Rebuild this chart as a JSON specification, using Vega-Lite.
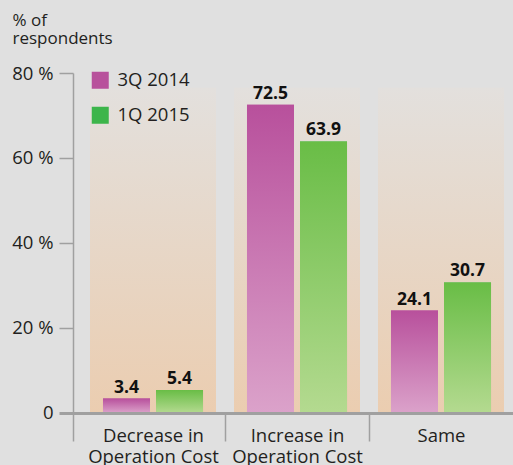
{
  "$schema": "https://vega.github.io/schema/vega-lite/v6.json",
  "width": 440,
  "height": 368,
  "autosize": {"type": "none"},
  "padding": {"left": 73, "top": 73, "right": 0, "bottom": 24},
  "background": "#e0e0e0",
  "config": {"font": "Open Sans", "view": {"stroke": null}},
  "datasets": {
    "responses": [
      {"category": "Decrease in Operation Cost", "period": "3Q 2014", "value": 3.4},
      {"category": "Decrease in Operation Cost", "period": "1Q 2015", "value": 5.4},
      {"category": "Increase in Operation Cost", "period": "3Q 2014", "value": 72.5},
      {"category": "Increase in Operation Cost", "period": "1Q 2015", "value": 63.9},
      {"category": "Same", "period": "3Q 2014", "value": 24.1},
      {"category": "Same", "period": "1Q 2015", "value": 30.7}
    ]
  },
  "data": {"name": "responses"},
  "encoding": {
    "x": {
      "field": "category",
      "type": "nominal",
      "sort": ["Decrease in Operation Cost", "Increase in Operation Cost", "Same"],
      "scale": {"type": "band", "paddingInner": 0.125, "paddingOuter": 0.09028, "align": 0.654},
      "axis": {
        "title": null,
        "orient": "bottom",
        "offset": -28,
        "domainColor": "#a0a0a0",
        "domainWidth": 3,
        "tickSize": 28,
        "tickWidth": 1.5,
        "tickColor": {"condition": {"test": "datum.value === 'Decrease in Operation Cost'", "value": "transparent"}, "value": "#a0a0a0"},
        "bandPosition": 0.5,
        "tickOffset": -72,
        "labelOffset": 72,
        "labelPadding": -15,
        "labelBaseline": "top",
        "labelFontSize": 18.5,
        "labelLineHeight": 21,
        "labelColor": "#231f20",
        "labelAngle": 0,
        "labelOverlap": false,
        "labelExpr": "datum.value === 'Same' ? datum.value : [replace(datum.value, ' Operation Cost', ''), 'Operation Cost']"
      }
    }
  },
  "layer": [
    {
      "transform": [{"aggregate": [{"op": "count", "as": "n"}], "groupby": ["category"]}],
      "mark": {
        "type": "rect",
        "color": {
          "gradient": "linear", "x1": 0, "y1": 0, "x2": 0, "y2": 1,
          "stops": [{"offset": 0, "color": "#e3e0dd"}, {"offset": 1, "color": "#ebcdb0"}]
        }
      },
      "encoding": {
        "y": {"datum": 76.5, "type": "quantitative", "scale": {"domain": [-6.6, 80], "nice": false, "zero": false}},
        "y2": {"datum": 0}
      }
    },
    {
      "mark": {"type": "bar"},
      "encoding": {
        "y": {
          "field": "value",
          "type": "quantitative",
          "scale": {"domain": [-6.6, 80], "nice": false, "zero": false},
          "axis": {
            "values": [0, 20, 40, 60, 80],
            "grid": false,
            "domainColor": "#a0a0a0",
            "domainWidth": 1.5,
            "tickSize": 14,
            "tickColor": "#a0a0a0",
            "tickWidth": {"condition": {"test": "datum.value === 0", "value": 3}, "value": 1.5},
            "labelPadding": 6,
            "labelFontSize": 18.5,
            "labelColor": "#231f20",
            "labelExpr": "datum.value === 0 ? '0' : datum.value + ' %'",
            "title": ["% of", "respondents"],
            "titleAngle": 0,
            "titleAlign": "left",
            "titleBaseline": "top",
            "titleX": -61,
            "titleY": -61,
            "titleFontSize": 17,
            "titleFontWeight": "normal",
            "titleLineHeight": 18,
            "titleColor": "#231f20"
          }
        },
        "xOffset": {"field": "period", "type": "nominal", "scale": {"domain": ["3Q 2014", "1Q 2015"], "paddingInner": 0.1132, "paddingOuter": 0.245}},
        "color": {
          "field": "period",
          "type": "nominal",
          "scale": {"domain": ["3Q 2014", "1Q 2015"], "range": ["#b8519c", "#3db54a"]},
          "legend": {
            "title": null,
            "orient": "none",
            "legendX": 18,
            "legendY": -2,
            "padding": 0,
            "symbolType": "square",
            "symbolSize": 289,
            "symbolStrokeWidth": 0,
            "symbolOpacity": 1,
            "labelFontSize": 18.5,
            "labelColor": "#231f20",
            "labelOffset": 8,
            "rowPadding": 16
          }
        }
      }
    },
    {
      "transform": [{"filter": "datum.period === '3Q 2014'"}],
      "mark": {
        "type": "bar",
        "color": {
          "gradient": "linear", "x1": 0, "y1": 0, "x2": 0, "y2": 1,
          "stops": [{"offset": 0, "color": "#b8509c"}, {"offset": 1, "color": "#dba2ca"}]
        }
      },
      "encoding": {
        "y": {"field": "value", "type": "quantitative"},
        "xOffset": {"field": "period", "type": "nominal", "scale": {"domain": ["3Q 2014", "1Q 2015"], "paddingInner": 0.1132, "paddingOuter": 0.245}}
      }
    },
    {
      "transform": [{"filter": "datum.period === '1Q 2015'"}],
      "mark": {
        "type": "bar",
        "color": {
          "gradient": "linear", "x1": 0, "y1": 0, "x2": 0, "y2": 1,
          "stops": [{"offset": 0, "color": "#69bd46"}, {"offset": 1, "color": "#b4da90"}]
        }
      },
      "encoding": {
        "y": {"field": "value", "type": "quantitative"},
        "xOffset": {"field": "period", "type": "nominal", "scale": {"domain": ["3Q 2014", "1Q 2015"], "paddingInner": 0.1132, "paddingOuter": 0.245}}
      }
    },
    {
      "mark": {"type": "text", "dy": -6, "baseline": "alphabetic", "fontWeight": "bold", "fontSize": 17.5, "color": "#111111"},
      "encoding": {
        "y": {"field": "value", "type": "quantitative"},
        "xOffset": {"field": "period", "type": "nominal", "scale": {"domain": ["3Q 2014", "1Q 2015"], "paddingInner": 0.1132, "paddingOuter": 0.245}},
        "text": {"field": "value", "type": "quantitative", "format": ".1f"}
      }
    }
  ]
}
